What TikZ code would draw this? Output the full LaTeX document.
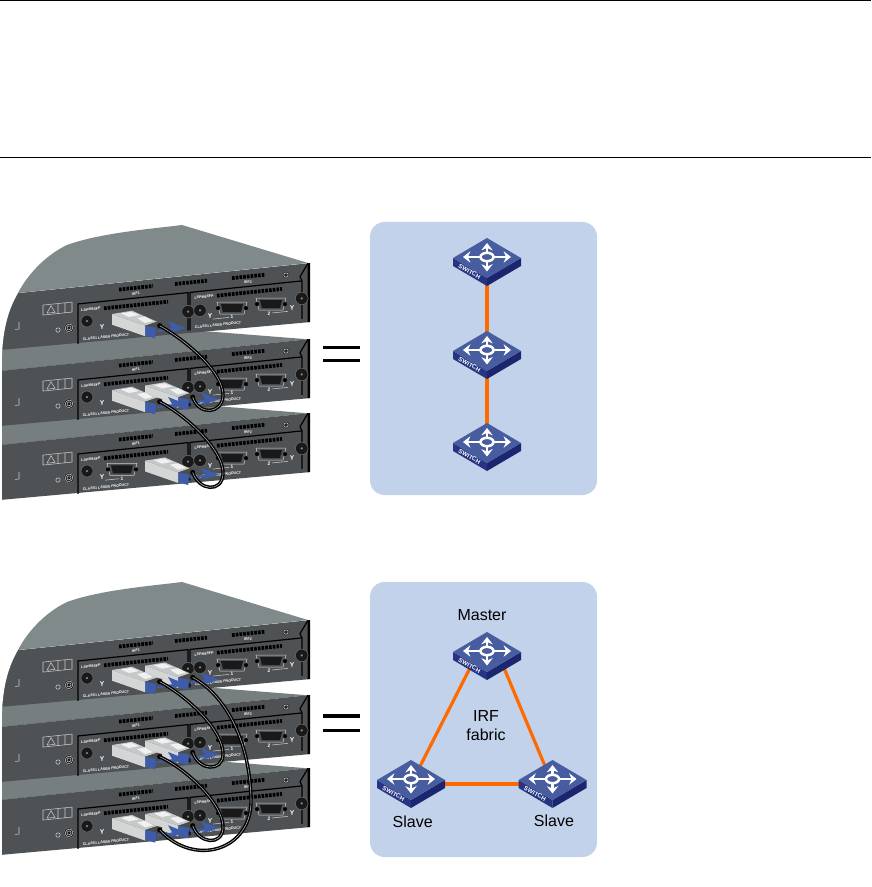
\documentclass[tikz,border=0pt]{standalone}
\usepackage{fontspec}
\setmainfont{Liberation Sans}
\usetikzlibrary{arrows.meta, backgrounds}
\definecolor{panelblue}{RGB}{194, 210, 234}
\definecolor{linkorange}{RGB}{255, 106, 0}
\definecolor{swtopblue}{RGB}{72, 92, 160}
\definecolor{swsideblue}{RGB}{38, 52, 130}
\definecolor{swdarkblue}{RGB}{28, 38, 110}
\definecolor{deckgray}{RGB}{128, 138, 138}
\definecolor{stripgray}{RGB}{118, 126, 127}
\definecolor{frontgray}{RGB}{78, 82, 85}
\definecolor{sfpblue}{RGB}{62, 92, 170}
\definecolor{sfptop}{RGB}{198, 201, 201}
\definecolor{sfpside}{RGB}{212, 214, 214}

\begin{document}
\begin{tikzpicture}[x=0.75pt, y=-0.75pt,
    rulebar/.style={draw=black, line width=0.7pt},
    equalbar/.style={draw=black, line width=2.3pt},
    panelbox/.style={fill=panelblue, rounded corners=11pt, minimum width=170.25pt, inner sep=0pt},
    irflink/.style={draw=linkorange, line width=2.4pt},
    swlabel/.style={font=\fontsize{12}{14.2}\selectfont, align=center, inner sep=0pt},
    swarrow/.style={draw=white, line width=1.9pt, {Stealth[length=5.5pt, width=8.5pt]}-{Stealth[length=5.5pt, width=8.5pt]}},
    tinytxt/.style={font=\fontsize{2.7}{3}\selectfont\bfseries, text=white, inner sep=0pt, transform shape},
    tagbar/.style={draw=black, line width=2.8pt, dash pattern=on 2pt off 0.8pt},
    markline/.style={draw=black, line width=0.9pt},
    thinwhite/.style={draw=white!80!black, line width=0.4pt},
    cable/.style={draw=black, line width=1.05pt, double=white!70!black, double distance=0.45pt},
    screwhead/.style={circle, fill=black!90, draw=black!60, line width=0.5pt, inner sep=0pt},
    dbport/.pic={
        \fill[black!90] (-11,-4) -- (11,-4) -- (9,4) -- (-9,4) -- cycle;
        \draw[thinwhite] (-15,-6) -- (15,-6) -- (12,6) -- (-12,6) -- cycle;
        \fill[black] (-14,0) circle (2) (14,0) circle (2);
    },
    deck/.pic={
        \fill[stripgray] (2,0) -- (2,-22) -- (190,-41) -- (308,-31.7) -- cycle;
    },
    topdeck/.pic={
        % white corner in front of the rounded cover
        \fill[white] (-1,-12) -- (18,-12) -- (18,-2) .. controls (8,15) and (3,35) .. (2,60) -- (-1,60) -- cycle;
        \fill[deckgray] (18,-2) .. controls (30,-25) and (50,-42) .. (67,-50)
            .. controls (100,-62) and (150,-66) .. (182,-70) -- (308,-32) -- cycle;
    },
    unit/.pic={
        \begin{scope}[yslant=.103]
        \fill[frontgray] (2,0) -- (308,0) -- (308,59) -- (2,55) -- cycle;
        \fill[black] (307.5,0) rectangle (310,59);
        % tag rows along the top of the front
        \draw[tagbar] (119,6.8) -- (153,6.8);
        \draw[tagbar] (175,7) -- (207,7);
        \draw[tagbar] (232,7) -- (265,7);
        \node[tinytxt] (-irfa) at (136,12.5) {IRF1};
        \node[tinytxt] (-irfb) at (248,12.5) {IRF2};
        \draw[markline] (308,0) -- (300,12.6) -- (302,17) -- (302,55);
        \fill[black!85] (286,9.5) circle (3.2);
        \draw[thinwhite] (286,9.5) circle (2.2);
        % module frames
        \draw[markline] (78,57) -- (78,17) -- (188,17) -- (188,55);
        \draw[markline] (190,55) -- (190,17) -- (302,17);
        \node[tinytxt] (-lspa) at (91,23.8) {LSPM6SFP};
        \node[tinytxt] (-lspb) at (204,23) {LSPM6SFP};
        \draw[tagbar] (104,24) -- (168,24);
        \draw[tagbar] (217,23) -- (282,23);
        \node[tinytxt] (-clsa) at (106,53) {CLASS1 LASER PRODUCT};
        \node[tinytxt] (-clsb) at (218,52.5) {CLASS1 LASER PRODUCT};
        % screws
        \node[screwhead, minimum size=9pt] (-sca) at (87,35) {};
        \node[screwhead, minimum size=9.5pt] (-scb) at (188,36) {};
        \node[screwhead, minimum size=9.5pt] (-scc) at (200,36) {};
        \node[screwhead, minimum size=9.5pt] (-scd) at (301.7,34.5) {};
        \fill[black!45] (87,35) circle (1.2) (188,36) circle (1.2) (200,36) circle (1.2) (301.7,34.5) circle (1.2);
        % ports of the right module
        \pic (-pa) at (232,37) {dbport};
        \pic (-pb) at (271,37) {dbport};
        \node[tinytxt, font=\fontsize{5}{5}\selectfont\bfseries] (-ya) at (102,42) {Y};
        \node[tinytxt, font=\fontsize{5}{5}\selectfont\bfseries] (-yb) at (210,43) {Y};
        \node[tinytxt, font=\fontsize{5}{5}\selectfont\bfseries] (-yc) at (292,43) {Y};
        \node[tinytxt, font=\fontsize{3.6}{4}\selectfont\bfseries] (-na) at (232,46) {1};
        \node[tinytxt, font=\fontsize{3.6}{4}\selectfont\bfseries] (-nb) at (269,46) {2};
        \draw[thinwhite] (213,46) -- (229,46) (272,46) -- (288,46);
        % warning label and earth point
        \draw[thinwhite] (43,14.5) rectangle (72,24.5) (58,14.5) -- (58,24.5) (65,14.5) -- (65,24.5);
        \draw[thinwhite] (47,23) -- (51,16) -- (55,23) -- cycle;
        \node[screwhead, minimum size=8pt] (-sce) at (69,40) {};
        \draw[thinwhite] (69,40) circle (3.8) (69,40) circle (2);
        \draw[thinwhite] (58,41) circle (2.2);
        \draw[thinwhite] (19,29) -- (19,36) -- (15,36);
        \end{scope}
    },
    leftport/.pic={
        \begin{scope}[yslant=.103]
        \pic (-pc) at (122,37) {dbport};
        \node[tinytxt, font=\fontsize{3.6}{4}\selectfont\bfseries] (-nc) at (122,46) {1};
        \draw[thinwhite] (105,46) -- (119,46);
        \end{scope}
    },
    sfp/.pic={
        \fill[sfpside] (0,0) -- (33.3,11.7) -- (33.3,22.3) -- (0,10.7) -- cycle;
        \fill[sfptop] (0,0) -- (20,-3.3) -- (45,7.7) -- (33.3,11.7) -- cycle;
        \fill[white!75!sfptop] (9,-0.5) -- (19,-2.2) -- (27,1) -- (17,3) -- cycle;
        \fill[white!75!sfptop] (25,4) -- (33,2.6) -- (41,7) -- (33,9) -- cycle;
        \fill[black!70] (33.3,11.7) -- (45,7.7) -- (50,9) -- (50,14) -- (44,17) -- cycle;
        \fill[sfpblue] (33.3,11.7) -- (44,14) -- (43.3,24.3) -- (33.3,21.7) -- cycle;
        \fill[sfpblue] (56,7) -- (74,14) -- (58,19) -- (60,14) -- cycle;
        \draw[sfpblue, line width=1.5pt] (45,17) -- (68,14.3);
        \node[circle, fill=black, inner sep=0pt, minimum size=3.8pt] (-jack) at (47.7,11.7) {};
    },
    switch/.pic={
        \fill[swsideblue] (-34,0) -- (0,20) -- (0,28) -- (-34,8) -- cycle;
        \fill[swdarkblue] (0,20) -- (34,0) -- (34,8) -- (0,28) -- cycle;
        \fill[swtopblue] (-34,0) -- (0,-20) -- (34,0) -- (0,20) -- cycle;
        \draw[swarrow] (-24,-1) -- (24,-1);
        \draw[swarrow] (0,-15) -- (0,13.5);
        \draw[draw=white, fill=swtopblue, line width=1.9pt] (0,-1) ellipse (6.5 and 4.2);
        \node[font=\fontsize{4.6}{5}\selectfont\bfseries, text=white, inner sep=0pt, rotate=-30] (-tag) at (-17.5,13.5) {SWITCH};
        \coordinate (-c) at (0,4);
        \coordinate (-sw) at (-17,16);
        \coordinate (-se) at (17,16);
    }
]
\useasboundingbox (0,0) rectangle (871,887);

\draw[rulebar] (0,0.5) -- (871,0.5);
\draw[rulebar] (0,157) -- (871,157);

\begin{scope}[on background layer]
    \node[panelbox, minimum height=204.75pt] (panela) at (483.5,358.5) {};
    \node[panelbox, minimum height=206.25pt] (panelb) at (483.5,719.5) {};
\end{scope}

% upper stack
\foreach \nm/\ypos in {c/445, b/371} {
    \pic (da\nm) at (0,\ypos) {deck};
    \pic (ua\nm) at (0,\ypos) {unit};
}
\pic (uaa) at (0,295) {unit};
\pic (daa) at (0,295) {topdeck};
\pic (lpa) at (0,445) {leftport};

\pic (sfa) at (112,314) {sfp};
\pic (sfc) at (145,385.5) {sfp};
\pic (sfb) at (112,390) {sfp};
\pic (sfd) at (145,460.7) {sfp};

\draw[cable] (sfa-jack.center) .. controls (190,343) and (224,374) .. (223,396)
    .. controls (222,414) and (199,416) .. (sfc-jack.center);
\draw[cable] (sfb-jack.center) .. controls (190,418) and (224,452) .. (223,474)
    .. controls (222,493) and (199,491) .. (sfd-jack.center);

% lower stack
\foreach \nm/\ypos in {c/800, b/727} {
    \pic (db\nm) at (0,\ypos) {deck};
    \pic (ub\nm) at (0,\ypos) {unit};
}
\pic (uba) at (0,652) {unit};
\pic (dba) at (0,652) {topdeck};

\pic (sfh) at (145,665.7) {sfp};
\pic (sfe) at (112,670) {sfp};
\pic (sfi) at (145,740.7) {sfp};
\pic (sff) at (112,745) {sfp};
\pic (sfj) at (145,814) {sfp};
\pic (sfg) at (112,818.3) {sfp};

\draw[cable] (sfe-jack.center) .. controls (190,698) and (224,732) .. (223,755)
    .. controls (222,772) and (199,771) .. (sfi-jack.center);
\draw[cable] (sff-jack.center) .. controls (190,771) and (224,806) .. (223,828)
    .. controls (222,846) and (199,844) .. (sfj-jack.center);
\draw[cable] (sfh-jack.center) .. controls (225,695) and (250,740) .. (251,800)
    .. controls (252,850) and (195,868) .. (sfg-jack.center);

% equal signs
\draw[equalbar] (323,347.3) -- (360,347.3);
\draw[equalbar] (323,360.3) -- (360,360.3);
\draw[equalbar] (323,716) -- (360,716);
\draw[equalbar] (323,730.3) -- (360,730.3);

% chain of switches
\pic (swa) at (487,258) {switch};
\pic (swb) at (487,351) {switch};
\pic (swc) at (487,443) {switch};

% ring of switches
\pic (swm) at (487,652) {switch};
\pic (swl) at (411,780) {switch};
\pic (swr) at (552.5,780) {switch};

\begin{scope}[on background layer]
    \draw[irflink] (swa-c) -- (swb-c);
    \draw[irflink] (swb-c) -- (swc-c);
    \draw[irflink] (swm-sw) -- (swl-c);
    \draw[irflink] (swm-se) -- (swr-c);
    \draw[irflink] (swl-c) -- (swr-c);
\end{scope}

\node[swlabel] (mastertxt) at (482,615) {Master};
\node[swlabel] (slavel) at (412.7,822) {Slave};
\node[swlabel] (slaver) at (554,821) {Slave};
\node[swlabel] (fabrictxt) at (486,725.5) {IRF\\fabric};
\end{tikzpicture}
\end{document}
